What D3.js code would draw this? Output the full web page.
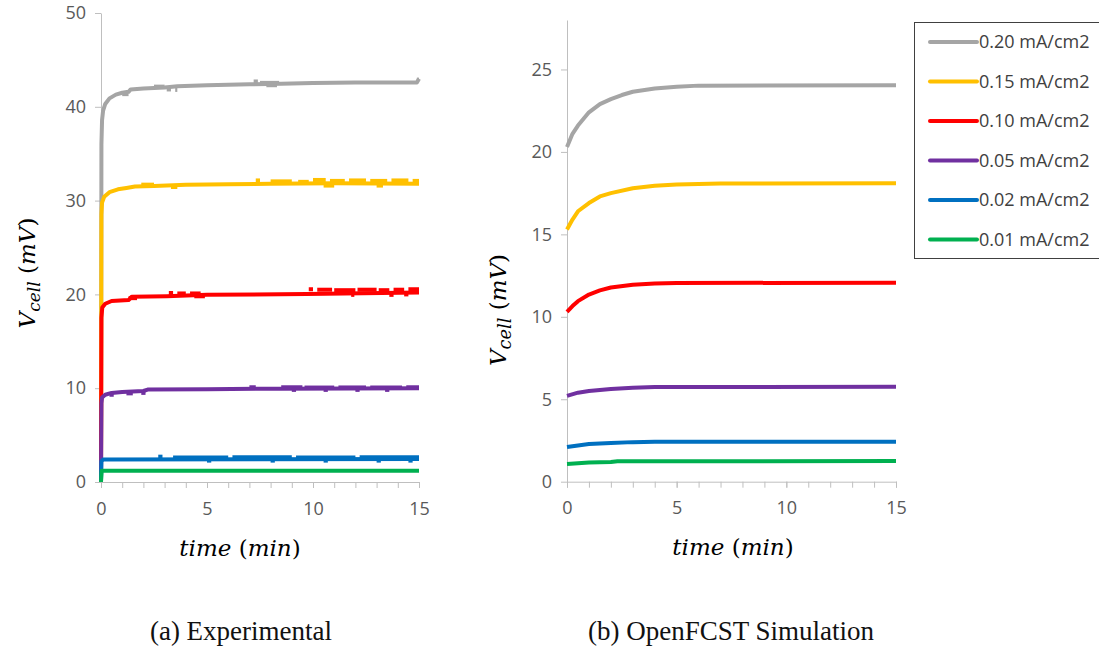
<!DOCTYPE html>
<html>
<head>
<meta charset="utf-8">
<script src="https://cdn.jsdelivr.net/npm/d3@7"></script>
<style>
  body { margin: 0; background: #fff; }
  .tick text { font-family: "Open Sans", sans-serif; font-size: 18px; fill: #595959; }
  .axis path, .axis line { stroke: #bfbfbf; }
  .mathtxt { font-family: "DejaVu Serif", serif; font-size: 23px; fill: #000; }
  .caption { font-family: "Liberation Serif", serif; font-size: 27px; fill: #111; }
  .legend text { font-family: "Open Sans", sans-serif; font-size: 18px; fill: #404040; }
</style>
</head>
<body>
<script>
// series labels and colours
var labels = ["0.20 mA/cm2", "0.15 mA/cm2", "0.10 mA/cm2", "0.05 mA/cm2", "0.02 mA/cm2", "0.01 mA/cm2"];
var colors = ["#a5a5a5", "#ffc000", "#ff0000", "#7030a0", "#0070c0", "#00b050"];

var expTicksY = [0, 10, 20, 30, 40, 50];
var simTicksY = [0, 5, 10, 15, 20, 25];
var ticksX = [0, 5, 10, 15];

// (a) experimental, [time min, Vcell mV]
var exp020 = [[0,0],[0.02,36],[0.05,38.6],[0.1,39.6],[0.2,40.3],[0.4,40.9],[0.7,41.3],[1,41.5],[1.3,41.6],[1.4,41.85],[2,41.95],[3,42.05],[3.6,42.2],[5,42.3],[7,42.4],[8.5,42.45],[10,42.55],[12,42.6],[14.9,42.6],[15,43.0]];
var exp015 = [[0,0],[0.02,28.5],[0.05,29.8],[0.15,30.4],[0.4,30.9],[0.8,31.2],[1.2,31.35],[1.6,31.5],[2.5,31.55],[4,31.7],[6,31.75],[8,31.8],[11,31.85],[15,31.8]];
var exp010 = [[0,0],[0.02,17.5],[0.06,18.6],[0.2,19.0],[0.5,19.3],[1.3,19.4],[1.45,19.75],[3.1,19.8],[5,19.95],[9.7,20.05],[15,20.2]];
var exp005 = [[0,0],[0.02,8.4],[0.05,9.0],[0.2,9.3],[0.5,9.5],[1,9.6],[2,9.7],[2.2,9.85],[5,9.9],[8.5,9.95],[15,10.0]];
var exp002 = [[0,0],[0.02,2.2],[0.1,2.4],[15,2.45]];
var exp001 = [[0,0],[0.03,1.2],[15,1.2]];

// noisy bits of the measured traces: [from min, to min, mV]
var noise020 = [[1.0,1.3,41.35],[2.5,3.0,42.15],[3.1,3.3,41.85],[3.5,3.6,41.8],[7.2,7.4,42.7],[7.5,8.4,42.55],[7.8,8.3,42.3],[14.9,15,42.9]];
var noise015 = [[1.9,2.5,31.7],[3.3,3.6,31.45],[7.3,7.5,32.15],[8.0,9.0,32.05],[9.3,9.8,32.0],[10.0,10.6,32.2],[10.8,11.5,32.1],[11.7,12.5,32.15],[12.7,13.5,32.1],[13.7,14.5,32.15],[14.7,15,32.1],[10.5,11,31.6],[13,13.3,31.6]];
var noise010 = [[1.3,1.7,19.6],[3.2,3.4,20.15],[3.6,4.0,20.1],[4.2,4.7,20.1],[4.4,4.9,19.8],[9.8,10.0,20.55],[10.2,10.9,20.5],[11.0,12.0,20.45],[12.1,13.0,20.5],[13.1,13.6,20.45],[13.8,14.3,20.5],[14.5,15,20.55],[11.8,11.95,19.95],[13.6,13.8,19.95],[14.3,14.5,20.0]];
var noise005 = [[0.4,0.6,9.3],[1.2,1.5,9.45],[1.9,2.1,9.5],[7.0,7.3,10.1],[8.5,9.5,10.1],[9.6,11,10.07],[11.2,12.5,10.08],[12.7,14.2,10.07],[14.4,15,10.1],[9.0,9.2,9.82],[10.5,10.7,9.82],[12.0,12.2,9.82],[13.4,13.6,9.82]];
var noise002 = [[2.7,2.9,2.7],[3.4,6,2.62],[6.2,9,2.64],[9.2,12,2.62],[12.2,15,2.64],[5,5.2,2.28],[8,8.2,2.28],[10.5,10.7,2.28],[13,13.2,2.28],[14.5,14.7,2.28]];
var noise001 = [];

// (b) OpenFCST simulation
var sim020 = [[0,20.3],[0.25,21.1],[0.5,21.6],[1,22.4],[1.5,22.9],[2,23.2],[2.5,23.45],[3,23.65],[4,23.85],[5,23.95],[6,24.02],[15,24.05]];
var sim015 = [[0,15.3],[0.25,15.9],[0.5,16.4],[1,16.9],[1.5,17.3],[2,17.5],[3,17.8],[4,17.95],[5,18.03],[7,18.08],[15,18.1]];
var sim010 = [[0,10.3],[0.25,10.65],[0.5,10.95],[1,11.35],[1.5,11.6],[2,11.78],[3,11.95],[4,12.02],[5,12.05],[15,12.07]];
var sim005 = [[0,5.2],[0.5,5.4],[1,5.5],[2,5.62],[3,5.7],[4,5.74],[15,5.76]];
var sim002 = [[0,2.1],[0.5,2.2],[1,2.28],[2,2.35],[3,2.4],[4,2.42],[15,2.43]];
var sim001 = [[0,1.08],[0.5,1.12],[1,1.16],[2,1.2],[2.3,1.24],[15,1.25]];

var expSeries = [exp020, exp015, exp010, exp005, exp002, exp001];
var expNoise = [noise020, noise015, noise010, noise005, noise002, noise001];
var simSeries = [sim020, sim015, sim010, sim005, sim002, sim001];

var svg = d3.select("body").append("svg")
  .attr("width", 1099).attr("height", 651);

function panel(series, noise, yMax, yTicks, xr, yr) {
  var x = d3.scaleLinear().domain([0, 15]).range(xr);
  var y = d3.scaleLinear().domain([0, yMax]).range(yr);

  // minor ticks every minute
  svg.append("g").attr("class", "axis")
    .attr("transform", "translate(0," + yr[0] + ")")
    .call(d3.axisBottom(x).tickValues(d3.range(0, 16)).tickSize(6).tickFormat(""))
    .select(".domain").remove();
  svg.append("g").attr("class", "axis")
    .attr("transform", "translate(0," + yr[0] + ")")
    .call(d3.axisBottom(x).tickValues(ticksX).tickSize(6).tickPadding(14).tickSizeOuter(0));
  svg.append("g").attr("class", "axis")
    .attr("transform", "translate(" + xr[0] + ",0)")
    .call(d3.axisLeft(y).tickValues(yTicks).tickSize(6).tickPadding(9).tickSizeOuter(0));

  var line = d3.line().x(function(d) { return x(d[0]); }).y(function(d) { return y(d[1]); });
  series.forEach(function(s, i) {
    svg.append("path")
      .datum(s)
      .attr("d", line)
      .attr("fill", "none")
      .attr("stroke", colors[i])
      .attr("stroke-width", 4)
      .attr("stroke-linejoin", "round");
    if (noise) {
      noise[i].forEach(function(n) {
        svg.append("path")
          .datum([[n[0], n[2]], [n[1], n[2]]])
          .attr("d", line)
          .attr("fill", "none")
          .attr("stroke", colors[i])
          .attr("stroke-width", 4);
      });
    }
  });
}

panel(expSeries, expNoise, 50, expTicksY, [101, 419], [482, 13]);
panel(simSeries, null, 28, simTicksY, [567, 896], [481.7, 20]);

// axis titles
function vTitle(cx, cy, fs) {
  var t = svg.append("text").attr("class", "mathtxt")
    .attr("font-size", fs + "px")
    .attr("transform", "translate(" + cx + "," + cy + ") rotate(-90)")
    .attr("text-anchor", "middle");
  t.append("tspan").attr("font-style", "italic").text("V");
  t.append("tspan").attr("font-style", "italic").attr("font-size", (fs * 0.74) + "px").attr("dy", 5).text("cell");
  t.append("tspan").attr("dy", -5).text(" (");
  t.append("tspan").attr("font-style", "italic").text("mV");
  t.append("tspan").text(")");
}
function tTitle(cx, cy) {
  var t = svg.append("text").attr("class", "mathtxt")
    .attr("x", cx).attr("y", cy).attr("text-anchor", "middle");
  t.append("tspan").attr("font-style", "italic").text("time");
  t.append("tspan").text(" (");
  t.append("tspan").attr("font-style", "italic").text("min");
  t.append("tspan").text(")");
}
vTitle(35, 273, 23);
vTitle(506, 310, 24);
tTitle(240, 556);
tTitle(733, 555);

// captions
svg.append("text").attr("class", "caption").attr("x", 241).attr("y", 640)
  .attr("text-anchor", "middle").text("(a) Experimental");
svg.append("text").attr("class", "caption").attr("x", 731).attr("y", 640)
  .attr("text-anchor", "middle").text("(b) OpenFCST Simulation");

// legend
var lg = svg.append("g").attr("class", "legend");
lg.append("rect").attr("x", 914.5).attr("y", 22.5).attr("width", 200).attr("height", 236)
  .attr("fill", "#fff").attr("stroke", "#404040").attr("stroke-width", 1);
var rowY = d3.scaleLinear().domain([0, 5]).range([42, 239.5]);
labels.forEach(function(l, i) {
  lg.append("line").attr("x1", 930).attr("x2", 977)
    .attr("y1", rowY(i)).attr("y2", rowY(i))
    .attr("stroke", colors[i]).attr("stroke-width", 4).attr("stroke-linecap", "round");
  lg.append("text").attr("x", 979).attr("y", rowY(i)).attr("dy", "0.35em").text(l);
});
</script>
</body>
</html>
